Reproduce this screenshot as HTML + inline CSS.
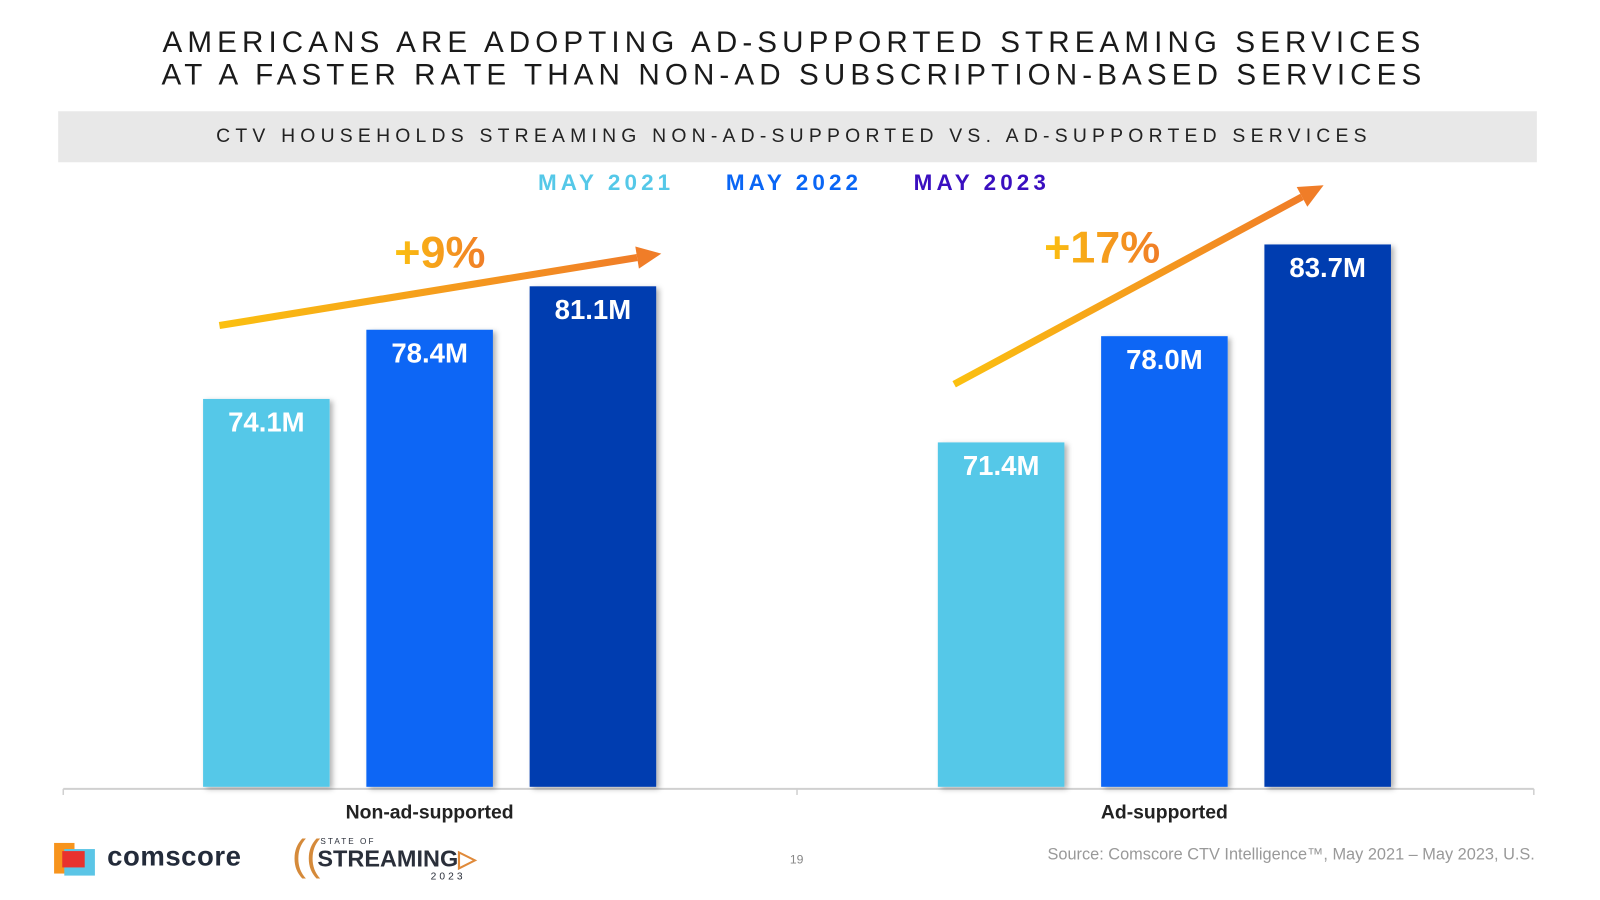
<!DOCTYPE html>
<html><head><meta charset="utf-8"><style>
body{margin:0;width:1600px;height:900px;background:#fff;font-family:"Liberation Sans",Arial,sans-serif;overflow:hidden;position:relative}
#w{position:absolute;left:0;top:0;width:1560px;height:878px;transform:scale(1.0205);transform-origin:0 0}
.t{position:absolute;left:0;width:1556px;text-align:center;color:#1a1a1a}
</style></head><body><div id="w">
<div class="t" style="top:26px;font-size:29px;letter-spacing:5px;line-height:32px">AMERICANS ARE ADOPTING AD-SUPPORTED STREAMING SERVICES<br>AT A FASTER RATE THAN NON-AD SUBSCRIPTION-BASED SERVICES</div>
<div style="position:absolute;left:57px;top:109px;width:1449px;height:50px;background:#e8e8e8"></div>
<div class="t" style="top:123px;font-size:19px;letter-spacing:5.1px;color:#222">CTV HOUSEHOLDS STREAMING NON-AD-SUPPORTED VS. AD-SUPPORTED SERVICES</div>
<div class="t" style="top:166px;font-size:22px;font-weight:bold;letter-spacing:4px">
<span style="color:#55c8e8">MAY 2021</span>&nbsp;&nbsp;&nbsp;&nbsp;
<span style="color:#0a66f5">MAY 2022</span>&nbsp;&nbsp;&nbsp;&nbsp;
<span style="color:#3a0fc0">MAY 2023</span></div>
<svg id="c" width="1560" height="878" style="position:absolute;left:0;top:0">
<defs>
<linearGradient id="g" x1="0" x2="1"><stop offset="0" stop-color="#fbc010"/><stop offset="1" stop-color="#f07d28"/></linearGradient>
<filter id="sh" x="-10%" y="-10%" width="130%" height="120%"><feDropShadow dx="3" dy="2" stdDeviation="2.5" flood-color="#000" flood-opacity="0.3"/></filter>
</defs>
</svg>
<div style="position:absolute;left:53px;top:826px">
<div style="position:absolute;left:0;top:0;width:20px;height:30px;background:#f7941d"></div>
<div style="position:absolute;left:10px;top:6px;width:30px;height:26px;background:#5bc5e6"></div>
<div style="position:absolute;left:8px;top:8px;width:22px;height:16px;background:#e8322e"></div>
<div style="position:absolute;left:52px;top:-2px;font-size:27px;font-weight:bold;color:#232b3a;letter-spacing:0.5px">comscore</div></div>
<div style="position:absolute;left:286px;top:818px;color:#2a2f3a;width:200px;height:50px">
<div style="position:absolute;left:0;top:-2px;font-size:42px;color:#d58a3a;line-height:44px">((</div>
<div style="position:absolute;left:28px;top:2px;font-size:8px;letter-spacing:2px;line-height:9px">STATE OF</div>
<div style="position:absolute;left:25px;top:11px;font-size:23px;font-weight:bold;line-height:25px">STREAMING<span style="color:#e08a3a">▷</span></div>
<div style="position:absolute;left:136px;top:36px;font-size:10px;letter-spacing:3px;line-height:11px">2023</div></div>
<div style="position:absolute;left:774px;top:835px;font-size:12px;color:#888">19</div>
<div style="position:absolute;right:56px;top:829px;font-size:16px;color:#999">Source: Comscore CTV Intelligence™, May 2021 – May 2023, U.S.</div>
</div>
<script>
const categories=["Non-ad-supported","Ad-supported"];
const series2021=[74.1,71.4];
const series2022=[78.4,78.0];
const series2023=[81.1,83.7];
const growthLabels=["+9%","+17%"];
const seriesNames=["May 2021","May 2022","May 2023"];
const NS="http://www.w3.org/2000/svg",svg=document.getElementById('c');
const base=771,ppu=15.77,vmin=50;
const y=v=>base-(v-vmin)*ppu;
const gx=i=>421+i*720;
const colors=["#55c8e8","#0a66f5","#003cb0"];
const arrowStartDy=[72,57],arrowEndDx=[227,156],arrowEndDy=[32,58];
function mk(t,a){const e=document.createElementNS(NS,t);for(const k in a)e.setAttribute(k,a[k]);svg.appendChild(e);return e;}
const ax=mk('line',{x1:62,x2:1503,y1:773,y2:773,stroke:'#d0d0d0','stroke-width':2});


[62,781,1503].forEach(x=>{const t=mk('line',{x1:x,x2:x,y1:773,y2:779,stroke:'#d0d0d0','stroke-width':1.5});

});
const all=[series2021,series2022,series2023];
categories.forEach((c,i)=>{
 all.forEach((s,j)=>{
  const x=gx(i)+(j-1)*160-62,top=y(s[i]);
  const r=mk('rect',{x:x,y:top,width:124,height:base-top,fill:colors[j],filter:'url(#sh)'});
  
  
  const t=mk('text',{x:x+62,y:top+32,'text-anchor':'middle',fill:'#fff','font-size':27,'font-weight':'bold','font-family':'Liberation Sans'});
  t.textContent=s[i].toFixed(1)+'M';
  
  
 });
 const l=mk('text',{x:gx(i),y:802,'text-anchor':'middle',fill:'#222','font-size':19,'font-weight':'bold','font-family':'Liberation Sans'});
 l.textContent=c;
 
 
 const x1=gx(i)-206,y1=y(series2021[i])-arrowStartDy[i],x2=gx(i)+arrowEndDx[i],y2=y(series2023[i])-arrowEndDy[i];
 const ang=Math.atan2(y2-y1,x2-x1),hl=24,hw=11;
 const bx=x2-hl*Math.cos(ang),by=y2-hl*Math.sin(ang);
 const ln=mk('line',{x1:x1,y1:y1,x2:bx,y2:by,stroke:'url(#g)','stroke-width':7});
 
 
 const px=-Math.sin(ang)*hw,py=Math.cos(ang)*hw;
 const hd=mk('polygon',{points:`${x2},${y2} ${bx+px},${by+py} ${bx-px},${by-py}`,fill:'#f07d28'});
 
 
 const g=mk('text',{x:i?1080:431,y:i?257:262,'text-anchor':'middle',fill:'url(#g)','font-size':44,'font-weight':'bold','font-family':'Liberation Sans'});
 g.textContent=growthLabels[i];
 
 
});
</script>
</body></html>
